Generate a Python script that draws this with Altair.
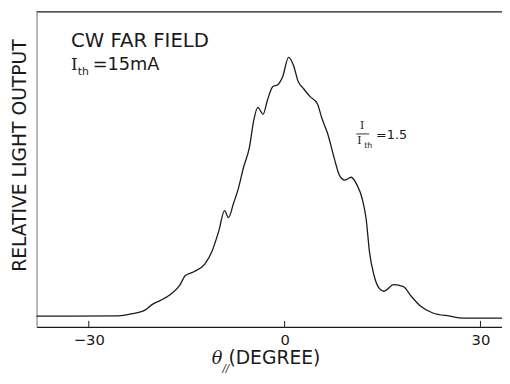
import altair as alt
import pandas as pd

# ---- data ----
theta_deg = [-38.0, -25.4, -23.5, -21.4, -20.2, -19.0, -17.5, -16.1, -15.2, -13.9,
             -12.2, -11.1, -10.1, -9.2, -8.6, -7.8, -7.1, -6.3, -5.4, -4.7,
             -4.1, -3.3, -2.6, -1.8, -1.05, -0.3, 0.6, 1.35, 2.1, 2.8,
             3.9, 5.0, 5.7, 6.6, 7.7, 8.4, 9.2, 10.2, 11.1, 11.9,
             12.5, 13.0, 13.7, 14.5, 15.2, 16.7, 18.2, 19.4, 20.8, 22.7,
             25.3, 27.3, 33.3]
light_output = [0.034, 0.035, 0.041, 0.053, 0.072, 0.084, 0.103, 0.131, 0.163, 0.175,
                 0.200, 0.241, 0.303, 0.369, 0.347, 0.394, 0.438, 0.506, 0.569, 0.659,
                 0.697, 0.675, 0.722, 0.763, 0.769, 0.794, 0.856, 0.831, 0.778, 0.759,
                 0.731, 0.709, 0.663, 0.613, 0.528, 0.481, 0.466, 0.475, 0.450, 0.406,
                 0.341, 0.238, 0.163, 0.122, 0.113, 0.134, 0.128, 0.097, 0.066, 0.044,
                 0.034, 0.028, 0.028]
x_ticks = [-30, 0, 30]

title_line1 = "CW FAR FIELD"
ith_main = "I"
ith_sub = "th"
ith_rest = "=15mA"
ratio_num = "I"
ratio_den = "I"
ratio_den_sub = "th"
ratio_value = "=1.5"
y_title = "RELATIVE LIGHT OUTPUT"
x_title_sym = "θ"
x_title_sub = "//"
x_title_rest = "(DEGREE)"

W, H = 473, 320
INK = "#1a1a1a"
SANS = "DejaVu Sans"
SERIF = "DejaVu Serif"

df = pd.DataFrame({"theta": theta_deg, "out": light_output})
xs = alt.Scale(domain=[-38.0, 33.3], nice=False, zero=False)
ys = alt.Scale(domain=[0, 1], nice=False, zero=False)

curve = alt.Chart(df).mark_line(
    color=INK, strokeWidth=1.3, interpolate="monotone"
).encode(
    x=alt.X("theta:Q", scale=xs,
            axis=alt.Axis(values=x_ticks, title=None, grid=False, ticks=False, tickSize=0,
                          labelFont=SANS, labelFontSize=15, labelColor=INK,
                          labelPadding=18, labelBaseline="alphabetic",
                          domainColor=INK, domainWidth=1.2)),
    y=alt.Y("out:Q", scale=ys,
            axis=alt.Axis(title=None, labels=False, ticks=False, grid=False,
                          domainColor="#888", domainWidth=1.2)),
)

tick_df = pd.DataFrame({"t": x_ticks})
ticks = alt.Chart(tick_df).mark_rule(color=INK, strokeWidth=1).encode(
    x=alt.X("t:Q", scale=xs), y=alt.value(H - 6), y2=alt.value(H)
)

one = pd.DataFrame({"a": [0]})
top_line = alt.Chart(one).mark_rule(color=INK, strokeWidth=1.2).encode(
    x=alt.value(0), x2=alt.value(W), y=alt.value(0)
)
frac_bar = alt.Chart(one).mark_rule(color=INK, strokeWidth=0.9).encode(
    x=alt.value(325), x2=alt.value(338), y=alt.value(124)
)


def label(txt, x, y, size, font=SANS, align="left", baseline="alphabetic", angle=0, style="normal"):
    return alt.Chart(one).mark_text(
        text=txt, font=font, fontSize=size, color=INK, align=align,
        baseline=baseline, angle=angle, fontStyle=style
    ).encode(x=alt.value(x), y=alt.value(y))


texts = [
    label(title_line1, 35, 36, 20),
    label(ith_main, 35, 59, 17, font=SERIF),
    label(ith_sub, 42, 64, 11),
    label(ith_rest, 57, 59, 18),
    label(ratio_num, 331, 119, 11, font=SERIF, align="center"),
    label(ratio_den, 328, 134, 11, font=SERIF, align="center"),
    label(ratio_den_sub, 333, 138, 8),
    label(ratio_value, 345, 129, 13),
    label(y_title, -17, 146, 19, align="center", baseline="middle", angle=270),
    label(x_title_sym, 178, 358, 18, font=SERIF, style="italic"),
    label(x_title_sub, 189, 366, 10, style="italic"),
    label(x_title_rest, 195, 358, 19),
]

chart = alt.layer(curve, ticks, top_line, frac_bar, *texts).properties(
    width=W, height=H,
    padding={"left": 29, "top": 1, "right": 0, "bottom": 50},
    autosize=alt.AutoSizeParams(type="none"),
    background="white",
).configure_view(stroke=None)

chart.save("out.html", embed_options={"renderer": "svg", "actions": False})
